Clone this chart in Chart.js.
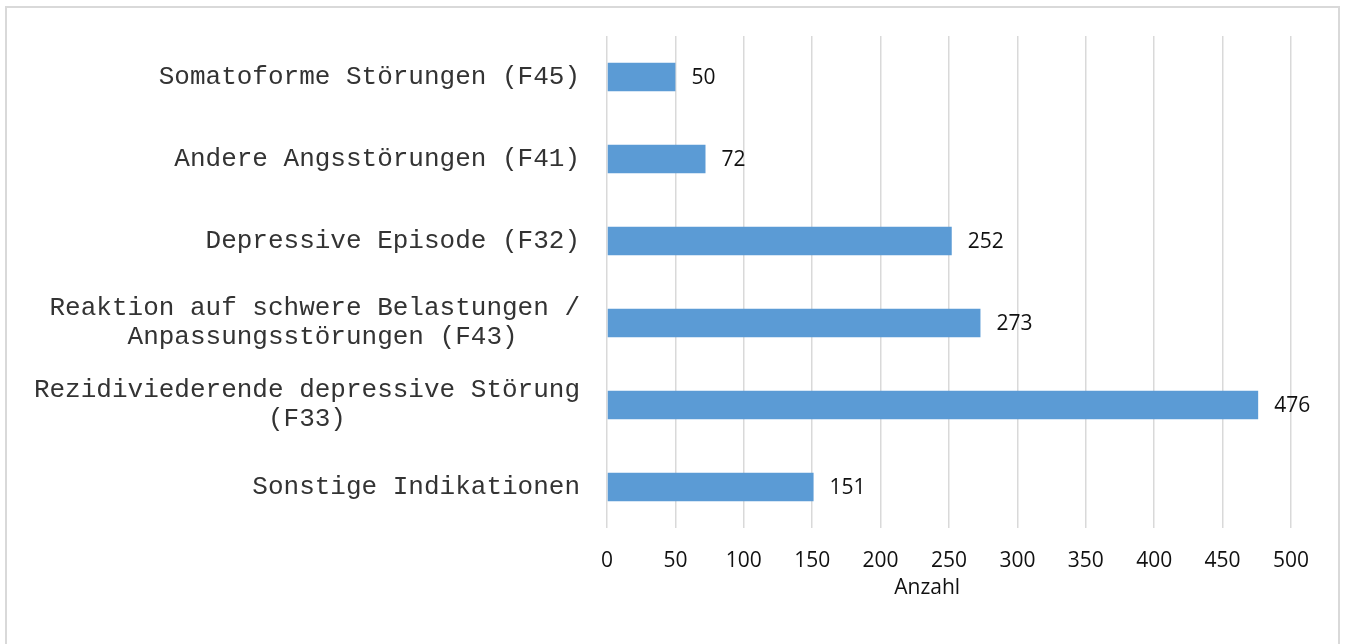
<!DOCTYPE html>
<html>
<head>
<meta charset="utf-8">
<script src="https://cdn.jsdelivr.net/npm/chart.js@4/dist/chart.umd.min.js"></script>
<style>
  html, body { margin: 0; padding: 0; background: #fff; overflow: hidden; }
  #frame { position: absolute; left: 5px; top: 6px; width: 1331px; height: 700px; border: 2px solid #d9d9d9; }
  #wrap { position: absolute; left: 0; top: 0; width: 1345px; height: 644px; }
</style>
</head>
<body>
<div id="frame"></div>
<div id="wrap"><canvas id="chart"></canvas></div>
<script>
const categories = [
  ["Somatoforme Störungen (F45)"],
  ["Andere Angsstörungen (F41)"],
  ["Depressive Episode (F32)"],
  ["Reaktion auf schwere Belastungen /", "Anpassungsstörungen (F43)"],
  ["Rezidiviederende depressive Störung", "(F33)"],
  ["Sonstige Indikationen"],
]
const counts = [50, 72, 252, 273, 476, 151]
const xTitle = "Anzahl"

// monospace labels: pad shorter lines so the lines of one label sit centred
function centerLines(lines) {
  const longest = Math.max(...lines.map((l) => l.length))
  return lines.map((l) => l + " ".repeat(Math.floor((longest - l.length) / 2)))
}

const valueLabels = {
  id: "valueLabels",
  afterDatasetsDraw(chart) {
    const ctx = chart.ctx
    const meta = chart.getDatasetMeta(0)
    ctx.save()
    ctx.font = "21px 'Open Sans'"
    ctx.fillStyle = "#111"
    ctx.textAlign = "left"
    ctx.textBaseline = "middle"
    meta.data.forEach((bar, i) => {
      ctx.fillText(String(chart.data.datasets[0].data[i]), bar.x + 16, bar.y + 1)
    })
    ctx.restore()
  },
}

const data = {
  labels: categories.map(centerLines),
  datasets: [
    {
      data: counts,
      backgroundColor: "#5b9bd5",
      borderWidth: 0,
      barPercentage: 0.35,
      categoryPercentage: 1,
    },
  ],
}

const config = {
  type: "bar",
  data: data,
  options: {
    indexAxis: "y",
    responsive: true,
    maintainAspectRatio: false,
    animation: false,
    layout: { padding: { left: 0, right: 54, top: 36, bottom: 36 } },
    plugins: {
      legend: { display: false },
      tooltip: { enabled: false },
    },
    scales: {
      x: {
        min: 0,
        max: 500,
        ticks: {
          stepSize: 50,
          padding: 20,
          color: "#111",
          font: { family: "'Open Sans'", size: 21, lineHeight: 1.2 },
        },
        grid: { color: "#d9d9d9", lineWidth: 1.5, drawTicks: false },
        border: { display: false },
        title: {
          display: true,
          text: xTitle + "        ",
          color: "#111",
          padding: { top: 0, bottom: 7 },
          font: { family: "'Open Sans'", size: 21, lineHeight: 1.2 },
        },
        afterFit: (scale) => {
          scale.height = 80
        },
      },
      y: {
        ticks: {
          autoSkip: false,
          padding: 27,
          color: "#333",
          font: { family: "'Liberation Mono'", size: 26, lineHeight: 1.12 },
        },
        grid: { display: false, drawTicks: false },
        border: { display: false },
        afterFit: (scale) => {
          scale.width = 607
          scale.paddingTop = 0
          scale.paddingBottom = 0
        },
      },
    },
  },
  plugins: [valueLabels],
}

const chart = new Chart(document.getElementById("chart"), config)
</script>
</body>
</html>
